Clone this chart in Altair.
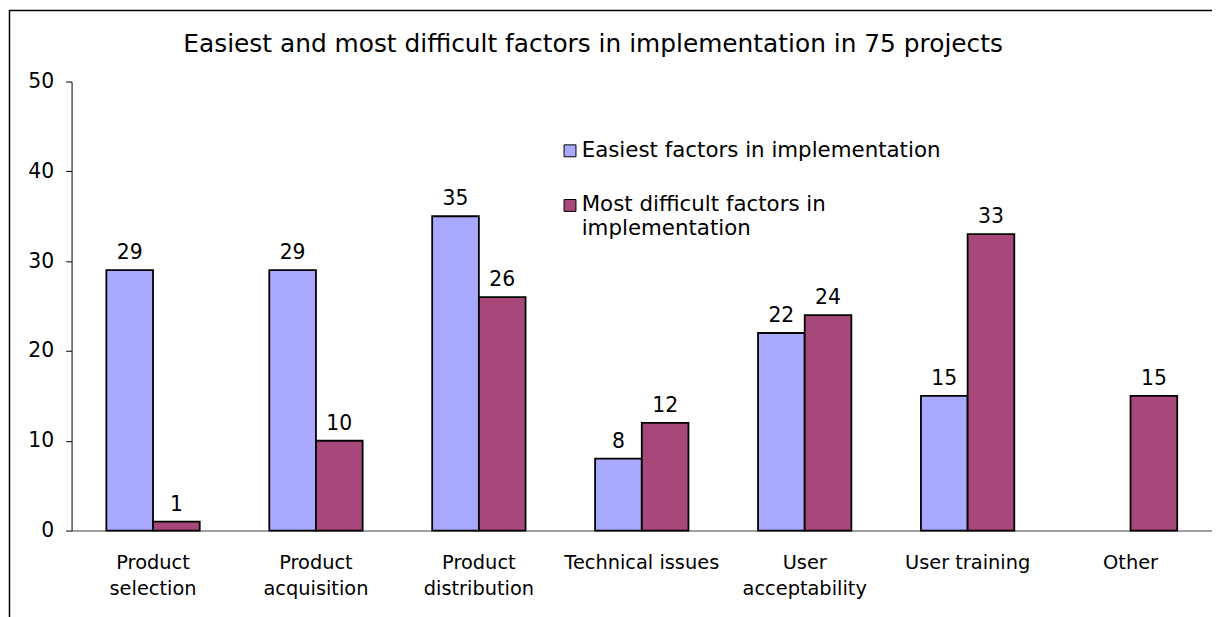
import altair as alt
import pandas as pd
import json

categories = ["Product selection", "Product acquisition", "Product distribution",
              "Technical issues", "User acceptability", "User training", "Other"]
tick_labels = [["Product", "selection"], ["Product", "acquisition"], ["Product", "distribution"],
               ["Technical issues"], ["User", "acceptability"], ["User training"], ["Other"]]
series = ["Easiest factors in implementation", "Most difficult factors in implementation"]
legend_lines = [["Easiest factors in implementation"], ["Most difficult factors in", "implementation"]]
easiest = [29, 29, 35, 8, 22, 15, None]
difficult = [1, 10, 26, 12, 24, 33, 15]
colors = ["#A9A9FF", "#A8477A"]
title = "Easiest and most difficult factors in implementation in 75 projects"
y_ticks = [0, 10, 20, 30, 40, 50]

rows = []
for c, e, d in zip(categories, easiest, difficult):
    rows.append({"category": c, "series": series[0], "value": e})
    rows.append({"category": c, "series": series[1], "value": d})
df = pd.DataFrame(rows)

def expr_map(keys, vals):
    e = "datum.label"
    for k, v in reversed(list(zip(keys, vals))):
        e = f"datum.label == {json.dumps(k)} ? {json.dumps(v)} : ({e})"
    return e

FONT = "DejaVu Sans"

base = alt.Chart(df)

bars = base.mark_bar(stroke="black", strokeWidth=1.8).encode(
    x=alt.X("category:N", sort=categories, title=None,
            scale=alt.Scale(paddingInner=0.427, paddingOuter=0.2135),
            axis=alt.Axis(labelAngle=0, labelFontSize=19.5, labelFont=FONT, labelColor="black",
                          ticks=False, domainColor="#808080", domainWidth=1.5,
                          labelPadding=23, labelLineHeight=26,
                          labelExpr=expr_map(categories, tick_labels))),
    xOffset=alt.XOffset("series:N", sort=series),
    y=alt.Y("value:Q", title=None,
            scale=alt.Scale(domain=[0, 50], nice=False),
            axis=alt.Axis(values=y_ticks, grid=False, labelFontSize=20.5, labelFont=FONT,
                          labelColor="black", tickColor="black", tickSize=6,
                          domainColor="black", labelPadding=12)),
    color=alt.Color("series:N", sort=series, title=None,
                    scale=alt.Scale(domain=series, range=colors),
                    legend=alt.Legend(orient="none", legendX=491, legendY=59,
                                      symbolType="square", symbolSize=144,
                                      symbolStrokeColor="black", symbolStrokeWidth=1,
                                      labelFontSize=21.5, labelFont=FONT, labelColor="black",
                                      labelBaseline="middle", labelOffset=1,
                                      labelLimit=600, rowPadding=32,
                                      labelExpr=expr_map(series, legend_lines))),
)

labels = base.transform_filter("isValid(datum.value)").mark_text(
    fontSize=20.5, font=FONT, color="black", baseline="alphabetic", dy=-11
).encode(
    x=alt.X("category:N", sort=categories),
    xOffset=alt.XOffset("series:N", sort=series),
    y="value:Q",
    text="value:Q",
)

title_text = alt.Chart(pd.DataFrame({"t": [title]})).mark_text(
    fontSize=25, font=FONT, color="black", align="center", baseline="middle"
).encode(x=alt.value(525), y=alt.value(-38), text="t:N")

frame = alt.Chart(pd.DataFrame({"a": [0]})).mark_rect(
    fill=None, stroke="black", strokeWidth=1.5
).encode(x=alt.value(-62.5), x2=alt.value(1200), y=alt.value(-71.5), y2=alt.value(600))

chart = alt.layer(frame, bars, labels, title_text).properties(
    width=1148, height=452,
    padding={"left": 64, "top": 72, "right": 0, "bottom": 85},
    autosize=alt.AutoSizeParams(type="none"),
).configure_view(stroke=None)

chart.save("out.html", embed_options={"renderer": "svg", "actions": False})
